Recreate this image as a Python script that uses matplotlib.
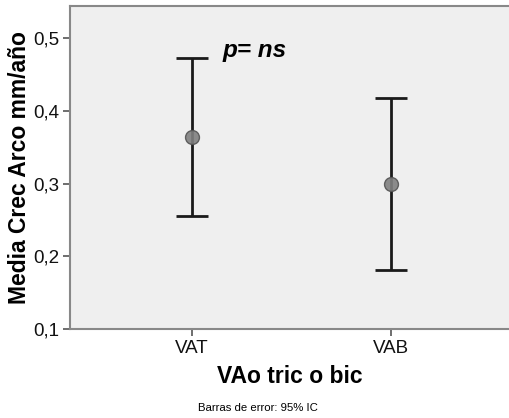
import matplotlib
matplotlib.use("Agg")
import matplotlib.pyplot as plt

plt.rcParams['font.family'] = ['Liberation Sans', 'DejaVu Sans']

groups = ["VAT", "VAB"]
means = [0.364, 0.300]
ci_low = [0.2555, 0.1805]
ci_high = [0.4725, 0.418]
yticks = [0.1, 0.2, 0.3, 0.4, 0.5]
ytick_labels = ["0,1", "0,2", "0,3", "0,4", "0,5"]

fig = plt.figure(figsize=(5.10, 4.18), dpi=100)
ax = fig.add_axes([0.1373, 0.2129, 0.8627, 0.7727])
ax.set_facecolor("#efefef")

xpos = list(range(1, len(groups) + 1))
yerr = [[m - lo for m, lo in zip(means, ci_low)],
        [hi - m for m, hi in zip(means, ci_high)]]
ax.errorbar(xpos, means, yerr=yerr, fmt="none", ecolor="#1a1a1a",
            elinewidth=2.0, capsize=11.5, capthick=2.0, zorder=2)
ax.scatter(xpos, means, s=100, facecolor="#808080", edgecolor="#555555",
           linewidth=1.0, alpha=0.9, zorder=3)

ax.set_xlim(0.387, 2.598)
ax.set_ylim(0.1, 0.544)
ax.set_xticks(xpos)
ax.set_xticklabels(groups, fontsize=13.5)
ax.set_yticks(yticks)
ax.set_yticklabels(ytick_labels, fontsize=13.5)

for side in ["left", "bottom", "top"]:
    ax.spines[side].set_color("#888888")
    ax.spines[side].set_linewidth(1.5)
ax.spines["right"].set_visible(False)
ax.tick_params(axis="both", colors="#555555", labelcolor="#111111",
               length=5, width=1.2, pad=3)

ax.set_ylabel("Media Crec Arco mm/año", fontsize=16.5, fontweight="bold",
              labelpad=1)
ax.set_xlabel("VAo tric o bic", fontsize=16.5, fontweight="bold", labelpad=6)

ax.text(1.155, 0.4835, "p= ns", fontsize=17.5, fontweight="bold",
        fontstyle="italic", va="center", ha="left")

fig.text(0.506, 0.024, "Barras de error: 95% IC", fontsize=8.2,
         ha="center", va="center")

fig.savefig("out.png", dpi=100)
